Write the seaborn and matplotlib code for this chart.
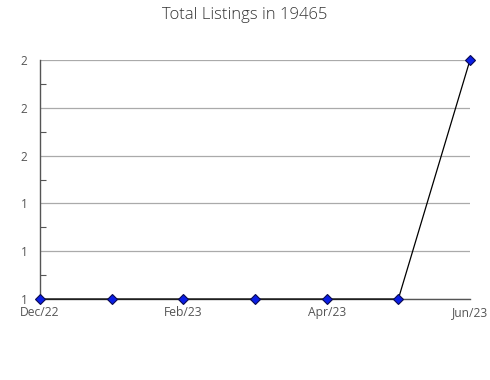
import matplotlib
matplotlib.use("Agg")
import matplotlib.pyplot as plt
import matplotlib.ticker as mticker
import seaborn as sns
import pandas as pd

months = ["Dec/22", "Jan/23", "Feb/23", "Mar/23", "Apr/23", "May/23", "Jun/23"]
listings = [1, 1, 1, 1, 1, 1, 2]
tick_labels = ["Dec/22", "Feb/23", "Apr/23", "Jun/23"]
y_ticks = [1.0, 1.2, 1.4, 1.6, 1.8, 2.0]

df = pd.DataFrame({"pos": range(len(months)), "month": months, "listings": listings})

sns.set_theme(style="white")
plt.rcParams['font.family'] = ['Open Sans', 'DejaVu Sans']

fig = plt.figure(figsize=(4.9, 3.8), dpi=100)
ax = fig.add_axes([40/490, 1-299/380, 430/490, 239/380])

sns.lineplot(data=df, x="pos", y="listings", ax=ax, color="black",
             linewidth=0.9, marker="D", markersize=5.5,
             markerfacecolor="#0a1ee6", markeredgecolor="#0a0a50",
             markeredgewidth=0.8, zorder=5, clip_on=False)

ax.set_xlim(0, len(months) - 1)
ax.set_ylim(1.0, 2.0)
ax.set_xticks([months.index(m) for m in tick_labels])
ax.set_xticklabels(tick_labels)
ax.set_yticks(y_ticks)
ax.yaxis.set_major_formatter(mticker.FuncFormatter(lambda v, p: f"{v:.0f}"))
ax.yaxis.set_minor_locator(mticker.FixedLocator([1.1, 1.3, 1.5, 1.7, 1.9]))

ax.grid(axis="y", color="#aaaaaa", linewidth=0.9)
ax.set_axisbelow(True)
for s in ["top", "right"]:
    ax.spines[s].set_visible(False)
for s in ["left", "bottom"]:
    ax.spines[s].set_color("#555555")
    ax.spines[s].set_linewidth(1.0)

ax.tick_params(axis="y", which="major", length=0, labelsize=8.5, labelcolor="#555555", pad=9)
ax.tick_params(axis="y", which="minor", direction="in", length=4, width=0.8,
               color="#555555", left=True)
ax.tick_params(axis="x", which="major", direction="in", length=5, width=0.8,
               color="#555555", labelsize=8.7, labelcolor="#555555", pad=5)
ax.set_xlabel("")
ax.set_ylabel("")

fig.text(0.5, 1-15/380, "Total Listings in 19465", ha="center", va="center",
         fontsize=12, color="#333333", fontweight="light")

fig.savefig("out.png", dpi=100)
